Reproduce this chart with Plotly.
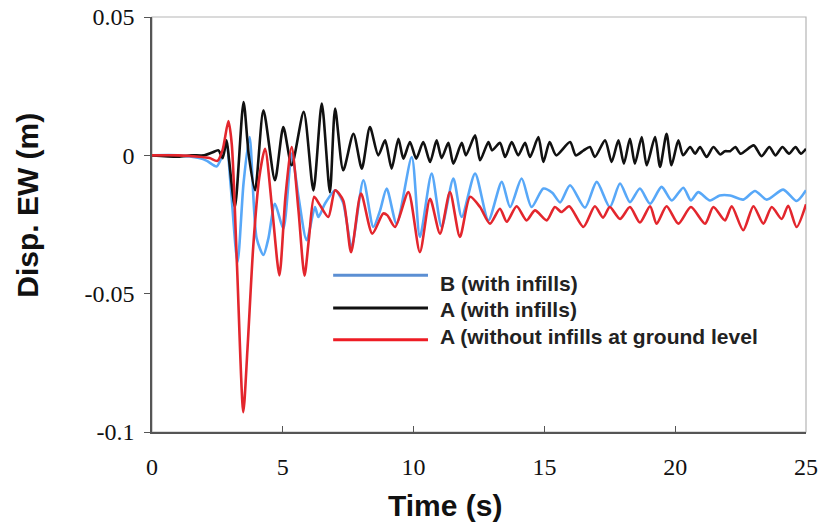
import plotly.graph_objects as go

# Turning points: time (s) and EW displacement (m)
t_blue = [0, 1.0, 1.8, 2.1, 2.47, 2.65, 2.85, 3.0, 3.27, 3.5, 3.73, 4.0, 4.26,
          4.45, 4.7, 5.02, 5.34, 5.6, 5.91, 6.23, 6.36, 6.61, 7.0, 7.3, 7.63,
          8.08, 8.46, 8.72, 8.97, 9.35, 9.93, 10.24, 10.69, 11.07, 11.52, 11.84,
          12.35, 12.86, 13.37, 13.69, 14.13, 14.51, 14.96, 15.3, 15.6, 15.98,
          16.55, 17.0, 17.5, 17.89, 18.27, 18.65, 19.04, 19.48, 19.87, 20.31,
          20.6, 20.88, 21.33, 21.7, 22.1, 22.6, 23.05, 23.5, 24.13, 24.64, 25.0]
d_blue = [0, 0, -0.001, -0.002, -0.004, -0.001, 0.0036, -0.01, -0.0386, -0.01,
          0.0066, -0.03, -0.036, -0.03, -0.0175, -0.0265, 0.0006, -0.015,
          -0.0307, -0.0187, -0.0223, -0.0175, -0.0126, -0.017, -0.033, -0.009,
          -0.0259, -0.0199, -0.012, -0.0247, -0.0006, -0.0295, -0.0066, -0.0259,
          -0.0084, -0.0223, -0.0066, -0.0235, -0.0096, -0.0187, -0.0084, -0.0187,
          -0.012, -0.0135, -0.017, -0.0108, -0.0189, -0.0096, -0.0187, -0.0102,
          -0.0169, -0.012, -0.0175, -0.0114, -0.0163, -0.0117, -0.0163, -0.0133,
          -0.0163, -0.0145, -0.0145, -0.016, -0.0129, -0.016, -0.0124, -0.0165,
          -0.0126]

t_black = [0, 1.0, 1.5, 2.0, 2.3, 2.54, 2.7, 2.85, 2.95, 3.17, 3.5, 3.7, 3.94,
           4.26, 4.7, 5.02, 5.34, 5.8, 6.17, 6.49, 6.8, 7.0, 7.31, 7.7, 8.02,
           8.33, 8.65, 8.91, 9.16, 9.42, 9.61, 9.86, 10.1, 10.37, 10.63, 10.88,
           11.07, 11.33, 11.52, 11.84, 12.0, 12.35, 12.54, 12.86, 13.0, 13.3,
           13.5, 13.75, 14.0, 14.26, 14.45, 14.77, 14.96, 15.2, 15.45, 15.98,
           16.2, 16.5, 16.74, 16.93, 17.32, 17.57, 17.83, 18.04, 18.27, 18.46,
           18.72, 18.91, 19.23, 19.42, 19.67, 19.86, 20.12, 20.3, 20.57, 20.76,
           20.95, 21.2, 21.46, 21.72, 21.9, 22.1, 22.3, 22.5, 23.0, 23.3, 23.6,
           23.83, 24.1, 24.35, 24.6, 24.8, 25.0]
d_black = [0, -0.0005, 0, 0, 0.001, 0.0018, -0.001, 0.0054, -0.002, -0.0187,
           0.0193, 0.0, -0.0126, 0.0163, -0.009, 0.0102, -0.0036, 0.0157,
           -0.0127, 0.0187, -0.0133, 0.0169, -0.0054, 0.0078, -0.0048, 0.0102,
           0.0, 0.0054, -0.0048, 0.006, -0.0012, 0.0048, -0.0012, 0.0048,
           -0.0024, 0.0054, -0.001, 0.0045, -0.003, 0.0045, 0.0, 0.0072, -0.0018,
           0.0048, 0.0018, 0.0045, -0.0006, 0.0048, 0.0, 0.0045, -0.0006, 0.0066,
           -0.0024, 0.0048, 0.0, 0.0048, 0.0, 0.0018, 0.003, -0.0006, 0.0054,
           -0.0024, 0.0054, -0.003, 0.006, -0.003, 0.0066, -0.0036, 0.0066,
           -0.0042, 0.0078, -0.0036, 0.0054, 0.0, 0.003, 0.0006, 0.003, -0.0006,
           0.003, 0.0003, 0.0015, 0.0015, 0.003, 0.0006, 0.0036, -0.0003, 0.003,
           0.0, 0.003, 0.0006, 0.003, 0.0006, 0.0024]

t_red = [0, 1.0, 1.8, 2.2, 2.5, 2.7, 2.92, 3.05, 3.25, 3.49, 3.65, 3.87, 4.1,
         4.32, 4.6, 4.87, 5.1, 5.34, 5.6, 5.83, 6.0, 6.2, 6.42, 6.74, 7.0, 7.31,
         7.61, 7.99, 8.42, 8.84, 9.0, 9.29, 9.8, 10.24, 10.63, 11.01, 11.39,
         11.77, 12.16, 12.54, 12.92, 13.3, 13.56, 13.94, 14.32, 14.64, 15.09,
         15.4, 15.65, 15.95, 16.49, 16.93, 17.24, 17.5, 17.89, 18.27, 18.65,
         19.04, 19.29, 19.67, 20.12, 20.6, 21.14, 21.46, 21.9, 22.16, 22.6,
         22.99, 23.37, 23.69, 24.07, 24.32, 24.64, 25.0]
d_red = [0, 0, -0.0005, -0.001, -0.002, 0.002, 0.0124, 0.004, -0.04, -0.0928,
         -0.07, -0.033, -0.008, 0.0024, -0.02, -0.0434, -0.015, 0.003, -0.02,
         -0.0435, -0.03, -0.015, -0.018, -0.0223, -0.0126, -0.0163, -0.035,
         -0.0138, -0.0283, -0.021, -0.0217, -0.0259, -0.0133, -0.035, -0.0157,
         -0.0283, -0.0133, -0.0295, -0.015, -0.0187, -0.0247, -0.0193, -0.024,
         -0.0184, -0.0235, -0.0199, -0.0235, -0.0187, -0.0205, -0.0184, -0.0259,
         -0.0184, -0.0225, -0.0187, -0.023, -0.0187, -0.0243, -0.0184, -0.0247,
         -0.0184, -0.0247, -0.0187, -0.0247, -0.0187, -0.0235, -0.0184, -0.0271,
         -0.0184, -0.0247, -0.0187, -0.023, -0.0182, -0.0259, -0.0177]

series = [
    ("B (with infills)", t_blue, d_blue, "#58a8f8", "#5b8fd3"),
    ("A (with infills)", t_black, d_black, "#111111", "#111111"),
    ("A (without infills at ground level", t_red, d_red, "#e3262d", "#ee1c24"),
]

fig = go.Figure()
for name, t, d, col, _ in series:
    fig.add_trace(go.Scatter(
        x=t, y=d, mode="lines", name=name,
        line=dict(color=col, width=2.6, shape="spline", smoothing=0.7),
        showlegend=False,
    ))

# hand-drawn legend (long line samples like the original)
leg_line_y = [0.378, 0.299, 0.222]
leg_text_y = [0.359, 0.294, 0.229]
for (name, _, _, _, lcol), ly, ty in zip(series, leg_line_y, leg_text_y):
    fig.add_shape(type="line", xref="paper", yref="paper",
                  x0=0.277, x1=0.422, y0=ly, y1=ly,
                  line=dict(color=lcol, width=3))
    fig.add_annotation(xref="paper", yref="paper", x=0.438, y=ty,
                       xanchor="left", yanchor="middle", showarrow=False,
                       text="<b>%s</b>" % name,
                       font=dict(family="Liberation Sans", size=21, color="#222"))

# light frame on top/right
fig.add_shape(type="rect", xref="paper", yref="paper", x0=0, x1=1, y0=0, y1=1,
              line=dict(color="#b5b5b5", width=1.2), layer="below")

fig.add_annotation(xref="paper", yref="paper", x=0.448, y=-0.176,
                   xanchor="center", yanchor="middle",
                   text="<b>Time (s)</b>", showarrow=False,
                   font=dict(family="Liberation Sans", size=30, color="#111"))
fig.add_annotation(xref="paper", yref="paper", x=-0.19, y=0.547,
                   xanchor="center", yanchor="middle",
                   text="<b>Disp. EW (m)</b>", showarrow=False, textangle=-90,
                   font=dict(family="Liberation Sans", size=30, color="#111"))

tick_font = dict(family="Liberation Serif", size=24, color="#111")
fig.update_xaxes(range=[0, 25], tickvals=[0, 5, 10, 15, 20, 25],
                 ticks="inside", ticklen=6, tickcolor="#555",
                 showline=True, linecolor="#555", linewidth=1.5,
                 showgrid=False, zeroline=False, tickfont=tick_font,
                 ticklabelstandoff=12, automargin=False,
                 ticklabeloverflow="allow")
fig.update_yaxes(range=[-0.1, 0.05], tickvals=[-0.1, -0.05, 0, 0.05],
                 ticktext=["-0.1", "-0.05", "0", "0.05"],
                 ticks="outside", ticklen=6, tickcolor="#555",
                 showline=True, linecolor="#555", linewidth=1.5,
                 showgrid=False, zeroline=False, tickfont=tick_font,
                 ticklabelstandoff=5, automargin=False,
                 ticklabeloverflow="allow")

fig.update_layout(
    width=822, height=526,
    margin=dict(l=152, r=16, t=17, b=94),
    plot_bgcolor="white", paper_bgcolor="white",
)

# drop the page's default body margin so the figure fills the window
fig.write_html("out.html", config={"displayModeBar": False},
               post_script="document.body.style.margin='0';"
                           "document.body.style.overflow='hidden';")
